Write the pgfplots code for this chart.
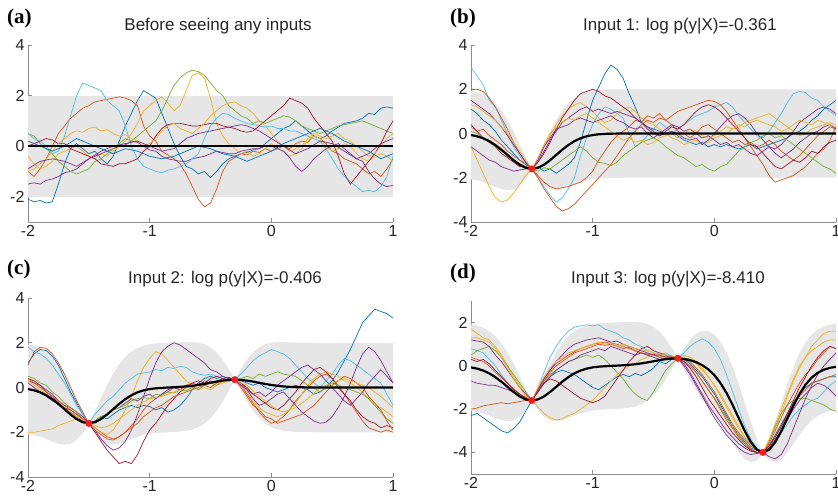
\documentclass[border=0pt]{standalone}
\usepackage{pgfplots}
\pgfplotsset{compat=1.18}
\usepackage{fontspec}
\setmainfont{Liberation Sans}
\newfontfamily\serifbf{Liberation Serif}
\definecolor{cb}{HTML}{0072BD}
\definecolor{co}{HTML}{D95319}
\definecolor{cy}{HTML}{EDB120}
\definecolor{cp}{HTML}{7E2F8E}
\definecolor{cg}{HTML}{77AC30}
\definecolor{cl}{HTML}{4DBEEE}
\definecolor{cr}{HTML}{A2142F}
\definecolor{axg}{RGB}{140,140,140}
\definecolor{txt}{RGB}{38,38,38}
\definecolor{band}{RGB}{230,230,230}
\definecolor{obs}{RGB}{245,30,30}
\pgfplotsset{
 gp/.style={scale only axis, width=365pt, anchor=south west, xmin=-2, xmax=1,
  xtick={-2,-1,0,1}, xticklabels={-2,-1,0,1},
  axis lines*=left, axis line style={axg, line width=0.6pt},
  tick style={axg, line width=0.6pt}, tick align=inside, major tick length=3.5pt,
  ticklabel style={font=\fontsize{16}{16}\selectfont, text=txt}},
 s/.style={line width=0.7pt, mark=none},
 mn/.style={black, line width=2.2pt, mark=none},
 ob/.style={only marks, mark=*, mark size=3.3pt, obs, mark options={draw=obs, fill=obs}},
 bd/.style={fill=band, draw=none, mark=none},
}
\begin{document}
\begin{tikzpicture}
\useasboundingbox (0,0) rectangle (838pt,503pt);
% ---------------- (a)
\begin{axis}[gp, at={(28pt,281pt)}, height=177pt, ymin=-3, ymax=4, ytick={-2,0,2,4}, yticklabels={-2,0,2,4}]
\addplot[bd] coordinates {(-2,-2)(1,-2)(1,2)(-2,2)} -- cycle;
\addplot[s, cb] coordinates {(-2,-2.1)(-1.95,-2.2)(-1.9,-2.15)(-1.85,-2.25)(-1.8,-2.2)(-1.75,-1.5)(-1.7,-0.7)(-1.65,-0.1)(-1.6,0.1)(-1.55,-0.1)(-1.5,-0.3)(-1.45,-0.2)(-1.4,-0.5)(-1.35,-0.7)(-1.3,-0.4)(-1.25,0.2)(-1.2,0.8)(-1.15,1.3)(-1.1,1.8)(-1.05,2.2)(-1,2.05)(-0.95,1.9)(-0.9,1.3)(-0.85,0.7)(-0.8,0.1)(-0.75,-0.4)(-0.7,-0.8)(-0.65,-0.9)(-0.6,-1.1)(-0.55,-1.0)(-0.5,-1.25)(-0.45,-1.0)(-0.4,-0.7)(-0.35,-0.5)(-0.3,-0.4)(-0.25,-0.3)(-0.2,-0.25)(-0.15,-0.15)(-0.1,-0.1)(-0.05,0.1)(0,0.3)(0.05,0.5)(0.1,0.7)(0.15,0.8)(0.2,1.0)(0.25,0.8)(0.3,0.6)(0.35,0.4)(0.4,0.3)(0.45,0.4)(0.5,0.6)(0.55,0.75)(0.6,0.9)(0.65,0.95)(0.7,1.0)(0.75,1.1)(0.8,1.3)(0.85,1.25)(0.9,1.5)(0.95,1.55)(1,1.5)};
\addplot[s, co] coordinates {(-2,-1.0)(-1.95,-1.2)(-1.9,-0.9)(-1.85,-0.5)(-1.8,0.0)(-1.75,0.5)(-1.7,0.8)(-1.65,1.1)(-1.6,1.3)(-1.55,1.5)(-1.5,1.6)(-1.45,1.75)(-1.4,1.8)(-1.35,1.85)(-1.3,1.9)(-1.25,1.95)(-1.2,1.9)(-1.15,1.8)(-1.1,1.6)(-1.05,0.8)(-1,0.4)(-0.95,0.2)(-0.9,-0.2)(-0.85,-0.35)(-0.8,-0.5)(-0.75,-0.7)(-0.7,-1.1)(-0.65,-1.6)(-0.6,-2.1)(-0.55,-2.4)(-0.5,-2.25)(-0.45,-1.7)(-0.4,-1.0)(-0.35,-0.6)(-0.3,-0.45)(-0.25,-0.3)(-0.2,-0.35)(-0.15,-0.2)(-0.1,-0.25)(-0.05,-0.1)(0,-0.2)(0.05,-0.1)(0.1,0.0)(0.15,-0.1)(0.2,0.1)(0.25,0.2)(0.3,0.15)(0.35,0.4)(0.4,0.3)(0.45,0.1)(0.5,-0.2)(0.55,-0.3)(0.6,-0.5)(0.65,-0.6)(0.7,-0.7)(0.75,-0.9)(0.8,-1.1)(0.85,-1.0)(0.9,-1.2)(0.95,-0.9)(1,-0.5)};
\addplot[s, cy] coordinates {(-2,-0.4)(-1.95,-0.7)(-1.9,-0.9)(-1.85,-0.8)(-1.8,-0.6)(-1.75,-0.3)(-1.7,-0.2)(-1.65,-0.1)(-1.6,0.0)(-1.55,-0.2)(-1.5,-0.4)(-1.45,-0.5)(-1.4,-0.3)(-1.35,-0.4)(-1.3,-0.2)(-1.25,0.0)(-1.2,0.2)(-1.15,0.5)(-1.1,0.9)(-1.05,1.4)(-1,1.6)(-0.95,1.8)(-0.9,1.95)(-0.85,1.7)(-0.8,1.4)(-0.75,1.6)(-0.7,2.2)(-0.65,2.8)(-0.6,2.9)(-0.55,2.7)(-0.5,1.9)(-0.45,0.9)(-0.4,0.4)(-0.35,0.1)(-0.3,-0.1)(-0.25,-0.3)(-0.2,-0.2)(-0.15,-0.4)(-0.1,-0.3)(-0.05,-0.1)(0,0.1)(0.05,-0.1)(0.1,-0.2)(0.15,-0.4)(0.2,-0.3)(0.25,-0.1)(0.3,0.2)(0.35,0.4)(0.4,0.3)(0.45,0.0)(0.5,-0.2)(0.55,-0.1)(0.6,0.1)(0.65,0.0)(0.7,-0.3)(0.75,-0.5)(0.8,-0.6)(0.85,-0.4)(0.9,-0.3)(0.95,-0.4)(1,-0.6)};
\addplot[s, cp] coordinates {(-2,-1.5)(-1.95,-1.45)(-1.9,-1.5)(-1.85,-1.35)(-1.8,-1.3)(-1.75,-1.2)(-1.7,-1.05)(-1.65,-1.0)(-1.6,-0.9)(-1.55,-0.7)(-1.5,-0.5)(-1.45,-0.4)(-1.4,-0.3)(-1.35,-0.2)(-1.3,-0.1)(-1.25,0.0)(-1.2,0.05)(-1.15,0.2)(-1.1,0.15)(-1.05,0.0)(-1,-0.15)(-0.95,-0.2)(-0.9,-0.4)(-0.85,-0.5)(-0.8,-0.55)(-0.75,-0.6)(-0.7,-0.6)(-0.65,-0.5)(-0.6,-0.45)(-0.55,-0.4)(-0.5,-0.3)(-0.45,-0.2)(-0.4,-0.25)(-0.35,-0.3)(-0.3,-0.3)(-0.25,-0.2)(-0.2,-0.15)(-0.15,-0.1)(-0.1,-0.1)(-0.05,0.0)(0,0.0)(0.05,-0.1)(0.1,-0.2)(0.15,-0.45)(0.2,-0.8)(0.25,-1.0)(0.3,-0.8)(0.35,-0.5)(0.4,-0.3)(0.45,-0.1)(0.5,0.0)(0.55,0.1)(0.6,-0.1)(0.65,-0.3)(0.7,-0.5)(0.75,-0.6)(0.8,-1.0)(0.85,-1.3)(0.9,-1.5)(0.95,-1.6)(1,-1.55)};
\addplot[s, cg] coordinates {(-2,0.5)(-1.95,0.4)(-1.9,0.1)(-1.85,-0.1)(-1.8,-0.3)(-1.75,-0.6)(-1.7,-0.8)(-1.65,-1.0)(-1.6,-1.1)(-1.55,-1.0)(-1.5,-0.9)(-1.45,-0.6)(-1.4,-0.5)(-1.35,-0.3)(-1.3,-0.1)(-1.25,0.1)(-1.2,0.3)(-1.15,0.2)(-1.1,0.4)(-1.05,0.6)(-1,0.8)(-0.95,1.0)(-0.9,1.4)(-0.85,1.9)(-0.8,2.4)(-0.75,2.7)(-0.7,2.9)(-0.65,3.0)(-0.6,2.95)(-0.55,2.8)(-0.5,2.5)(-0.45,2.2)(-0.4,2.0)(-0.35,1.6)(-0.3,1.4)(-0.25,1.2)(-0.2,1.1)(-0.15,0.9)(-0.1,1.0)(-0.05,0.9)(0,1.0)(0.05,1.1)(0.1,1.2)(0.15,1.15)(0.2,1.0)(0.25,0.8)(0.3,0.7)(0.35,0.6)(0.4,0.5)(0.45,0.6)(0.5,0.7)(0.55,0.8)(0.6,0.85)(0.65,0.9)(0.7,0.95)(0.75,1.0)(0.8,0.9)(0.85,0.8)(0.9,0.7)(0.95,0.6)(1,0.5)};
\addplot[s, cl] coordinates {(-2,0.5)(-1.95,0.3)(-1.9,0.2)(-1.85,0.0)(-1.8,-0.3)(-1.75,-0.2)(-1.7,0.4)(-1.65,1.2)(-1.6,2.0)(-1.55,2.5)(-1.5,2.4)(-1.45,2.3)(-1.4,2.2)(-1.35,1.8)(-1.3,1.6)(-1.25,1.4)(-1.2,0.8)(-1.15,0.0)(-1.1,-0.5)(-1.05,-0.8)(-1,-0.9)(-0.95,-1.0)(-0.9,-1.05)(-0.85,-0.95)(-0.8,-0.9)(-0.75,-0.8)(-0.7,-0.7)(-0.65,-0.5)(-0.6,-0.3)(-0.55,0.3)(-0.5,0.8)(-0.45,1.1)(-0.4,1.3)(-0.35,1.25)(-0.3,1.1)(-0.25,1.0)(-0.2,0.9)(-0.15,0.85)(-0.1,0.8)(-0.05,0.75)(0,0.8)(0.05,0.7)(0.1,0.7)(0.15,0.6)(0.2,0.6)(0.25,0.5)(0.3,0.4)(0.35,0.3)(0.4,0.2)(0.45,-0.1)(0.5,-0.5)(0.55,-0.9)(0.6,-1.2)(0.65,-1.4)(0.7,-1.6)(0.75,-1.8)(0.8,-1.75)(0.85,-1.8)(0.9,-1.6)(0.95,-1.2)(1,-0.4)};
\addplot[s, cr] coordinates {(-2,0.0)(-1.95,0.1)(-1.9,0.2)(-1.85,0.3)(-1.8,0.25)(-1.75,0.1)(-1.7,0.1)(-1.65,-0.1)(-1.6,-0.2)(-1.55,-0.3)(-1.5,-0.4)(-1.45,-0.5)(-1.4,-0.7)(-1.35,-0.75)(-1.3,-0.8)(-1.25,-0.7)(-1.2,-0.7)(-1.15,-0.6)(-1.1,-0.5)(-1.05,-0.2)(-1,0.0)(-0.95,0.4)(-0.9,0.7)(-0.85,0.85)(-0.8,0.9)(-0.75,0.9)(-0.7,0.85)(-0.65,0.8)(-0.6,0.8)(-0.55,0.85)(-0.5,0.9)(-0.45,0.9)(-0.4,0.8)(-0.35,0.75)(-0.3,0.7)(-0.25,0.6)(-0.2,0.55)(-0.15,0.6)(-0.1,0.8)(-0.05,1.0)(0,1.2)(0.05,1.4)(0.1,1.6)(0.15,1.9)(0.2,1.8)(0.25,1.7)(0.3,1.5)(0.35,1.1)(0.4,0.8)(0.45,0.5)(0.5,0.2)(0.55,-0.4)(0.6,-1.1)(0.65,-1.5)(0.7,-1.2)(0.75,-0.9)(0.8,-0.6)(0.85,-0.3)(0.9,0.1)(0.95,0.6)(1,1.0)};
\addplot[s, cy] coordinates {(-2,-1.0)(-1.95,-0.9)(-1.9,-0.7)(-1.85,-0.5)(-1.8,-0.2)(-1.75,0.1)(-1.7,0.3)(-1.65,0.5)(-1.6,0.6)(-1.55,0.55)(-1.5,0.7)(-1.45,0.75)(-1.4,0.6)(-1.35,0.65)(-1.3,0.5)(-1.25,0.4)(-1.2,0.45)(-1.15,0.3)(-1.1,0.2)(-1.05,0.0)(-1,0.1)(-0.95,0.3)(-0.9,0.6)(-0.85,0.8)(-0.8,0.9)(-0.75,0.7)(-0.7,0.6)(-0.65,0.5)(-0.6,0.7)(-0.55,0.9)(-0.5,1.2)(-0.45,1.4)(-0.4,1.6)(-0.35,1.7)(-0.3,1.75)(-0.25,1.6)(-0.2,1.5)(-0.15,1.3)(-0.1,1.0)(-0.05,0.8)(0,0.5)(0.05,0.2)(0.1,0.0)(0.15,-0.2)(0.2,-0.1)(0.25,0.0)(0.3,0.3)(0.35,0.5)(0.4,0.4)(0.45,0.3)(0.5,0.4)(0.55,0.5)(0.6,0.3)(0.65,0.2)(0.7,0.0)(0.75,-0.2)(0.8,-0.4)(0.85,-0.3)(0.9,0.0)(0.95,0.3)(1,0.5)};
\addplot[s, cp] coordinates {(-2,-0.9)(-1.95,-0.75)(-1.9,-0.6)(-1.85,-0.55)(-1.8,-0.5)(-1.75,-0.55)(-1.7,-0.6)(-1.65,-0.7)(-1.6,-0.8)(-1.55,-0.65)(-1.5,-0.5)(-1.45,-0.35)(-1.4,-0.2)(-1.35,-0.1)(-1.3,0.0)(-1.25,0.05)(-1.2,0.1)(-1.15,0.15)(-1.1,0.2)(-1.05,0.1)(-1,0.0)(-0.95,-0.1)(-0.9,-0.2)(-0.85,-0.15)(-0.8,-0.1)(-0.75,0.1)(-0.7,0.3)(-0.65,0.4)(-0.6,0.5)(-0.55,0.55)(-0.5,0.6)(-0.45,0.65)(-0.4,0.7)(-0.35,0.75)(-0.3,0.8)(-0.25,0.85)(-0.2,0.8)(-0.15,0.7)(-0.1,0.6)(-0.05,0.45)(0,0.3)(0.05,0.15)(0.1,0.0)(0.15,-0.15)(0.2,-0.3)(0.25,-0.2)(0.3,-0.1)(0.35,0.05)(0.4,0.2)(0.45,0.15)(0.5,0.1)(0.55,-0.05)(0.6,-0.2)(0.65,-0.35)(0.7,-0.5)(0.75,-0.4)(0.8,-0.3)(0.85,-0.1)(0.9,0.1)(0.95,0.2)(1,0.3)};
\addplot[s, cb] coordinates {(-2,0.2)(-1.95,0.1)(-1.9,0.0)(-1.85,-0.1)(-1.8,-0.2)(-1.75,-0.1)(-1.7,0.0)(-1.65,0.15)(-1.6,0.3)(-1.55,0.2)(-1.5,0.1)(-1.45,0.0)(-1.4,-0.1)(-1.35,-0.2)(-1.3,-0.3)(-1.25,-0.2)(-1.2,-0.1)(-1.15,-0.15)(-1.1,-0.2)(-1.05,-0.3)(-1,-0.4)(-0.95,-0.45)(-0.9,-0.5)(-0.85,-0.45)(-0.8,-0.4)(-0.75,-0.3)(-0.7,-0.2)(-0.65,-0.1)(-0.6,0.0)(-0.55,-0.05)(-0.5,-0.1)(-0.45,-0.2)(-0.4,-0.3)(-0.35,-0.35)(-0.3,-0.4)(-0.25,-0.5)(-0.2,-0.6)(-0.15,-0.5)(-0.1,-0.4)(-0.05,-0.3)(0,-0.2)(0.05,-0.05)(0.1,0.1)(0.15,0.2)(0.2,0.3)(0.25,0.4)(0.3,0.5)(0.35,0.6)(0.4,0.7)(0.45,0.6)(0.5,0.5)(0.55,0.35)(0.6,0.2)(0.65,0.1)(0.7,0.0)(0.75,-0.1)(0.8,-0.2)(0.85,-0.35)(0.9,-0.5)(0.95,-0.4)(1,-0.3)};
\addplot[mn] coordinates {(-2,0)(1,0)};
\end{axis}
% ---------------- (b)
\begin{axis}[gp, at={(471pt,281pt)}, height=177pt, ymin=-4, ymax=4, ytick={-4,-2,0,2,4}, yticklabels={-4,-2,0,2,4}]
\addplot[bd] coordinates {(-2,-2.068)(-1.95,-2.121)(-1.9,-2.199)(-1.85,-2.299)(-1.8,-2.412)(-1.75,-2.51)(-1.7,-2.56)(-1.65,-2.52)(-1.6,-2.353)(-1.55,-2.043)(-1.525,-1.836)(-1.5,-1.64)(-1.475,-1.836)(-1.45,-2.043)(-1.4,-2.353)(-1.35,-2.52)(-1.3,-2.56)(-1.25,-2.51)(-1.2,-2.412)(-1.15,-2.299)(-1.1,-2.199)(-1.05,-2.121)(-1,-2.068)(-0.95,-2.036)(-0.9,-2.018)(-0.85,-2.008)(-0.8,-2.004)(-0.75,-2)(1,-2)(1,2)(-0.75,2)(-0.8,1.996)(-0.85,1.992)(-0.9,1.982)(-0.95,1.964)(-1,1.928)(-1.05,1.867)(-1.1,1.765)(-1.15,1.607)(-1.2,1.372)(-1.25,1.046)(-1.3,0.62)(-1.35,0.104)(-1.4,-0.471)(-1.45,-1.059)(-1.475,-1.338)(-1.5,-1.56)(-1.525,-1.338)(-1.55,-1.059)(-1.6,-0.471)(-1.65,0.104)(-1.7,0.62)(-1.75,1.046)(-1.8,1.372)(-1.85,1.607)(-1.9,1.765)(-1.95,1.867)(-2,1.928)} -- cycle;
\addplot[s, cl] coordinates {(-2,3.0)(-1.95,2.6)(-1.9,2.2)(-1.85,1.5)(-1.8,1.2)(-1.75,0.6)(-1.7,0.0)(-1.65,-0.6)(-1.6,-1.0)(-1.55,-1.4)(-1.5,-1.6)(-1.45,-2.0)(-1.4,-2.4)(-1.35,-2.8)(-1.3,-3.1)(-1.25,-2.9)(-1.2,-2.5)(-1.15,-2.0)(-1.1,-1.0)(-1.05,-0.2)(-1,0.4)(-0.95,0.9)(-0.9,1.2)(-0.85,1.1)(-0.8,0.9)(-0.75,0.7)(-0.7,0.0)(-0.65,-0.6)(-0.6,-0.4)(-0.55,-0.1)(-0.5,0.2)(-0.45,0.5)(-0.4,0.3)(-0.35,0.0)(-0.3,0.2)(-0.25,0.4)(-0.2,0.6)(-0.15,0.8)(-0.1,0.9)(-0.05,1.0)(0,1.2)(0.05,1.3)(0.1,1.4)(0.15,1.2)(0.2,0.8)(0.25,0.5)(0.3,0.2)(0.35,-0.1)(0.4,-0.2)(0.45,0.1)(0.5,0.5)(0.55,0.9)(0.6,1.4)(0.65,1.8)(0.7,1.9)(0.75,1.85)(0.8,1.6)(0.85,1.5)(0.9,1.2)(0.95,1.0)(1,0.8)};
\addplot[s, cb] coordinates {(-2,1.1)(-1.95,0.9)(-1.9,0.6)(-1.85,0.4)(-1.8,0.1)(-1.75,-0.3)(-1.7,-0.6)(-1.65,-0.9)(-1.6,-1.2)(-1.55,-1.4)(-1.5,-1.6)(-1.45,-1.5)(-1.4,-1.7)(-1.35,-1.6)(-1.3,-1.8)(-1.25,-1.6)(-1.2,-1.4)(-1.15,-1.1)(-1.1,-0.4)(-1.05,0.6)(-1,1.5)(-0.95,2.1)(-0.9,2.7)(-0.85,3.1)(-0.8,2.9)(-0.75,2.5)(-0.7,1.8)(-0.65,1.2)(-0.6,0.5)(-0.55,0.3)(-0.5,0.2)(-0.45,0.1)(-0.4,0.0)(-0.35,0.1)(-0.3,-0.1)(-0.25,-0.3)(-0.2,-0.4)(-0.15,-0.5)(-0.1,-0.4)(-0.05,-0.6)(0,-0.5)(0.05,-0.6)(0.1,-0.5)(0.15,-0.6)(0.2,-0.7)(0.25,-0.6)(0.3,-0.5)(0.35,-0.7)(0.4,-0.6)(0.45,-0.5)(0.5,-0.4)(0.55,-0.3)(0.6,-0.2)(0.65,0.0)(0.7,0.1)(0.75,0.3)(0.8,0.6)(0.85,0.8)(0.9,1.1)(0.95,1.3)(1,1.5)};
\addplot[s, cy] coordinates {(-2,-0.6)(-1.95,-1.2)(-1.9,-1.8)(-1.85,-2.4)(-1.8,-2.9)(-1.75,-3.1)(-1.7,-3.0)(-1.65,-2.7)(-1.6,-2.3)(-1.55,-1.9)(-1.5,-1.6)(-1.45,-1.2)(-1.4,-0.6)(-1.35,-0.1)(-1.3,0.4)(-1.25,0.8)(-1.2,1.1)(-1.15,1.3)(-1.1,1.4)(-1.05,1.2)(-1,1.0)(-0.95,0.7)(-0.9,0.5)(-0.85,0.6)(-0.8,0.9)(-0.75,1.1)(-0.7,1.2)(-0.65,1.0)(-0.6,0.7)(-0.55,0.5)(-0.5,0.4)(-0.45,0.2)(-0.4,0.0)(-0.35,-0.2)(-0.3,-0.3)(-0.25,-0.5)(-0.2,-0.4)(-0.15,-0.3)(-0.1,-0.5)(-0.05,-0.4)(0,-0.2)(0.05,-0.1)(0.1,0.0)(0.15,0.2)(0.2,0.3)(0.25,0.5)(0.3,0.6)(0.35,0.7)(0.4,0.8)(0.45,0.9)(0.5,0.7)(0.55,0.5)(0.6,0.3)(0.65,0.1)(0.7,-0.1)(0.75,0.0)(0.8,0.2)(0.85,0.3)(0.9,0.4)(0.95,0.5)(1,0.4)};
\addplot[s, co] coordinates {(-2,2.0)(-1.95,2.0)(-1.9,1.9)(-1.85,1.6)(-1.8,1.2)(-1.75,0.7)(-1.7,0.2)(-1.65,-0.4)(-1.6,-0.9)(-1.55,-1.3)(-1.5,-1.6)(-1.45,-2.0)(-1.4,-2.5)(-1.35,-2.9)(-1.3,-3.3)(-1.25,-3.5)(-1.2,-3.4)(-1.15,-3.2)(-1.1,-2.9)(-1.05,-2.6)(-1,-2.3)(-0.95,-2.0)(-0.9,-1.7)(-0.85,-1.4)(-0.8,-1.0)(-0.75,-0.6)(-0.7,-0.2)(-0.65,0.1)(-0.6,0.4)(-0.55,0.6)(-0.5,0.5)(-0.45,0.7)(-0.4,0.6)(-0.35,0.8)(-0.3,1.0)(-0.25,1.1)(-0.2,1.2)(-0.15,1.3)(-0.1,1.4)(-0.05,1.5)(0,1.45)(0.05,1.3)(0.1,1.0)(0.15,0.6)(0.2,0.2)(0.25,-0.2)(0.3,-0.6)(0.35,-1.0)(0.4,-1.4)(0.45,-1.9)(0.5,-2.2)(0.55,-2.1)(0.6,-2.0)(0.65,-1.9)(0.7,-1.7)(0.75,-1.5)(0.8,-1.2)(0.85,-0.9)(0.9,-0.7)(0.95,-0.3)(1,0.3)};
\addplot[s, co] coordinates {(-2,0.3)(-1.95,0.1)(-1.9,0.2)(-1.85,-0.1)(-1.8,-0.3)(-1.75,-0.5)(-1.7,-0.8)(-1.65,-1.0)(-1.6,-1.2)(-1.55,-1.4)(-1.5,-1.6)(-1.45,-1.9)(-1.4,-2.2)(-1.35,-2.4)(-1.3,-2.5)(-1.25,-2.45)(-1.2,-2.4)(-1.15,-2.3)(-1.1,-2.2)(-1.05,-2.0)(-1,-1.7)(-0.95,-1.2)(-0.9,-0.8)(-0.85,-0.4)(-0.8,-0.1)(-0.75,0.1)(-0.7,0.3)(-0.65,0.6)(-0.6,0.5)(-0.55,0.8)(-0.5,0.7)(-0.45,0.9)(-0.4,0.6)(-0.35,0.4)(-0.3,0.1)(-0.25,0.0)(-0.2,-0.2)(-0.15,0.0)(-0.1,0.3)(-0.05,0.4)(0,0.2)(0.05,0.0)(0.1,-0.2)(0.15,-0.4)(0.2,-0.3)(0.25,-0.5)(0.3,-0.4)(0.35,-0.6)(0.4,-0.5)(0.45,-0.3)(0.5,-0.5)(0.55,-0.8)(0.6,-1.0)(0.65,-1.2)(0.7,-1.0)(0.75,-0.7)(0.8,-0.4)(0.85,-0.1)(0.9,0.1)(0.95,0.3)(1,0.2)};
\addplot[s, cr] coordinates {(-2,0.4)(-1.95,0.1)(-1.9,-0.2)(-1.85,-0.4)(-1.8,-0.6)(-1.75,-0.9)(-1.7,-1.1)(-1.65,-1.3)(-1.6,-1.5)(-1.55,-1.5)(-1.5,-1.6)(-1.45,-1.3)(-1.4,-0.9)(-1.35,-0.4)(-1.3,0.2)(-1.25,0.7)(-1.2,1.1)(-1.15,1.5)(-1.1,1.8)(-1.05,1.9)(-1,2.0)(-0.95,1.9)(-0.9,1.7)(-0.85,1.6)(-0.8,1.4)(-0.75,1.2)(-0.7,1.0)(-0.65,0.7)(-0.6,0.5)(-0.55,0.2)(-0.5,0.0)(-0.45,-0.1)(-0.4,0.1)(-0.35,0.3)(-0.3,0.2)(-0.25,0.4)(-0.2,0.7)(-0.15,1.0)(-0.1,1.2)(-0.05,1.3)(0,1.2)(0.05,1.0)(0.1,0.7)(0.15,0.4)(0.2,0.1)(0.25,-0.2)(0.3,-0.5)(0.35,-0.6)(0.4,-0.9)(0.45,-1.2)(0.5,-1.5)(0.55,-1.6)(0.6,-1.4)(0.65,-1.2)(0.7,-1.3)(0.75,-1.1)(0.8,-0.8)(0.85,-0.9)(0.9,-0.6)(0.95,-0.4)(1,-0.3)};
\addplot[s, cp] coordinates {(-2,1.5)(-1.95,1.3)(-1.9,1.1)(-1.85,0.9)(-1.8,0.6)(-1.75,0.3)(-1.7,-0.1)(-1.65,-0.5)(-1.6,-0.9)(-1.55,-1.3)(-1.5,-1.6)(-1.45,-1.3)(-1.4,-0.8)(-1.35,-0.3)(-1.3,0.1)(-1.25,0.5)(-1.2,0.7)(-1.15,0.9)(-1.1,1.1)(-1.05,1.2)(-1,1.0)(-0.95,1.1)(-0.9,1.0)(-0.85,0.9)(-0.8,1.0)(-0.75,0.9)(-0.7,0.8)(-0.65,0.7)(-0.6,0.5)(-0.55,0.3)(-0.5,0.1)(-0.45,-0.1)(-0.4,0.0)(-0.35,0.1)(-0.3,0.0)(-0.25,-0.2)(-0.2,-0.3)(-0.15,-0.2)(-0.1,-0.5)(-0.05,-0.3)(0,0.0)(0.05,0.3)(0.1,0.6)(0.15,0.8)(0.2,0.9)(0.25,0.7)(0.3,0.4)(0.35,0.0)(0.4,-0.3)(0.45,-0.6)(0.5,-0.7)(0.55,-0.5)(0.6,-0.2)(0.65,0.1)(0.7,0.5)(0.75,0.7)(0.8,0.9)(0.85,1.1)(0.9,1.2)(0.95,1.1)(1,0.9)};
\addplot[s, cp] coordinates {(-2,-0.6)(-1.95,-0.8)(-1.9,-1.0)(-1.85,-1.2)(-1.8,-1.3)(-1.75,-1.5)(-1.7,-1.6)(-1.65,-1.7)(-1.6,-1.65)(-1.55,-1.6)(-1.5,-1.6)(-1.45,-1.2)(-1.4,-0.6)(-1.35,-0.2)(-1.3,0.2)(-1.25,0.3)(-1.2,0.4)(-1.15,0.6)(-1.1,0.7)(-1.05,0.6)(-1,0.5)(-0.95,0.6)(-0.9,0.7)(-0.85,0.8)(-0.8,0.6)(-0.75,0.5)(-0.7,0.3)(-0.65,0.2)(-0.6,0.3)(-0.55,0.0)(-0.5,-0.2)(-0.45,0.0)(-0.4,0.2)(-0.35,0.4)(-0.3,0.3)(-0.25,0.1)(-0.2,0.2)(-0.15,0.0)(-0.1,-0.2)(-0.05,-0.1)(0,-0.3)(0.05,-0.5)(0.1,-0.4)(0.15,-0.6)(0.2,-0.5)(0.25,-0.7)(0.3,-0.9)(0.35,-1.0)(0.4,-0.8)(0.45,-0.6)(0.5,-0.9)(0.55,-1.1)(0.6,-0.9)(0.65,-0.7)(0.7,-0.4)(0.75,-0.2)(0.8,0.0)(0.85,0.1)(0.9,0.3)(0.95,0.4)(1,0.2)};
\addplot[s, cg] coordinates {(-2,0.1)(-1.95,0.0)(-1.9,-0.2)(-1.85,-0.4)(-1.8,-0.6)(-1.75,-0.8)(-1.7,-1.0)(-1.65,-1.2)(-1.6,-1.35)(-1.55,-1.5)(-1.5,-1.6)(-1.45,-1.7)(-1.4,-1.55)(-1.35,-1.6)(-1.3,-1.4)(-1.25,-1.2)(-1.2,-1.0)(-1.15,-0.8)(-1.1,-0.6)(-1.05,-0.8)(-1,-1.1)(-0.95,-1.3)(-0.9,-1.35)(-0.85,-1.45)(-0.8,-1.3)(-0.75,-1.0)(-0.7,-0.8)(-0.65,-0.6)(-0.6,-0.4)(-0.55,-0.3)(-0.5,-0.2)(-0.45,-0.35)(-0.4,-0.6)(-0.35,-0.8)(-0.3,-1.0)(-0.25,-1.1)(-0.2,-1.3)(-0.15,-1.5)(-0.1,-1.4)(-0.05,-1.6)(0,-1.7)(0.05,-1.5)(0.1,-1.4)(0.15,-1.1)(0.2,-0.8)(0.25,-0.6)(0.3,-0.4)(0.35,-0.3)(0.4,-0.1)(0.45,0.0)(0.5,-0.2)(0.55,-0.1)(0.6,-0.3)(0.65,-0.5)(0.7,-0.7)(0.75,-0.9)(0.8,-1.1)(0.85,-1.3)(0.9,-1.5)(0.95,-1.6)(1,-1.8)};
\addplot[s, cy] coordinates {(-2,1.3)(-1.95,1.2)(-1.9,1.0)(-1.85,0.8)(-1.8,0.6)(-1.75,0.3)(-1.7,0.0)(-1.65,-0.4)(-1.6,-0.8)(-1.55,-1.2)(-1.5,-1.6)(-1.45,-1.1)(-1.4,-0.5)(-1.35,0.0)(-1.3,0.3)(-1.25,0.5)(-1.2,0.7)(-1.15,0.6)(-1.1,0.8)(-1.05,0.9)(-1,0.7)(-0.95,0.5)(-0.9,0.3)(-0.85,0.1)(-0.8,-0.1)(-0.75,-0.3)(-0.7,-0.2)(-0.65,-0.4)(-0.6,-0.3)(-0.55,-0.5)(-0.5,-0.4)(-0.45,-0.2)(-0.4,-0.1)(-0.35,0.0)(-0.3,-0.2)(-0.25,0.0)(-0.2,0.2)(-0.15,0.1)(-0.1,-0.1)(-0.05,-0.2)(0,-0.1)(0.05,0.1)(0.1,0.3)(0.15,0.2)(0.2,0.4)(0.25,0.3)(0.3,0.5)(0.35,0.6)(0.4,0.5)(0.45,0.4)(0.5,0.3)(0.55,0.1)(0.6,0.2)(0.65,0.4)(0.7,0.6)(0.75,0.5)(0.8,0.4)(0.85,0.6)(0.9,0.5)(0.95,0.4)(1,0.3)};
\addplot[mn] coordinates {(-2,-0.07)(-1.95,-0.127)(-1.9,-0.217)(-1.85,-0.346)(-1.8,-0.52)(-1.75,-0.732)(-1.7,-0.97)(-1.65,-1.208)(-1.6,-1.412)(-1.55,-1.551)(-1.5,-1.6)(-1.45,-1.551)(-1.4,-1.412)(-1.35,-1.208)(-1.3,-0.97)(-1.25,-0.732)(-1.2,-0.52)(-1.15,-0.346)(-1.1,-0.217)(-1.05,-0.127)(-1,-0.07)(-0.95,-0.036)(-0.9,-0.018)(-0.85,-0.008)(-0.8,-0.004)(-0.7,0)(1,0)};
\addplot[ob] coordinates {(-1.5,-1.6)};
\end{axis}
% ---------------- (c)
\begin{axis}[gp, at={(28pt,26pt)}, height=179pt, ymin=-4, ymax=4, ytick={-4,-2,0,2,4}, yticklabels={-4,-2,0,2,4}]
\addplot[bd] coordinates {(-2,-2.068)(-1.95,-2.121)(-1.9,-2.199)(-1.85,-2.299)(-1.8,-2.412)(-1.75,-2.51)(-1.7,-2.56)(-1.65,-2.52)(-1.6,-2.353)(-1.55,-2.043)(-1.525,-1.836)(-1.5,-1.64)(-1.475,-1.836)(-1.45,-2.043)(-1.4,-2.353)(-1.35,-2.52)(-1.3,-2.56)(-1.25,-2.51)(-1.2,-2.412)(-1.15,-2.299)(-1.1,-2.199)(-1.05,-2.121)(-1,-2.068)(-0.95,-2.036)(-0.9,-2.018)(-0.85,-2.0)(-0.8,-1.987)(-0.75,-1.966)(-0.7,-1.935)(-0.65,-1.877)(-0.6,-1.778)(-0.55,-1.618)(-0.5,-1.378)(-0.45,-1.048)(-0.4,-0.632)(-0.35,-0.153)(-0.325,0.098)(-0.3,0.31)(-0.275,0.098)(-0.25,-0.153)(-0.2,-0.632)(-0.15,-1.048)(-0.1,-1.378)(-0.05,-1.618)(0,-1.778)(0.05,-1.877)(0.1,-1.935)(0.15,-1.966)(0.2,-1.984)(0.25,-1.992)(0.3,-1.996)(0.35,-2)(1,-2)(1,2)(0.35,2)(0.3,2.004)(0.25,2.008)(0.2,2.014)(0.15,2.022)(0.1,2.029)(0.05,2.029)(0,2.006)(-0.05,1.938)(-0.1,1.802)(-0.15,1.576)(-0.2,1.25)(-0.25,0.831)(-0.275,0.596)(-0.3,0.39)(-0.325,0.596)(-0.35,0.831)(-0.4,1.25)(-0.45,1.576)(-0.5,1.802)(-0.55,1.938)(-0.6,2.006)(-0.65,2.029)(-0.7,2.029)(-0.75,2.022)(-0.8,2.009)(-0.85,2.0)(-0.9,1.982)(-0.95,1.964)(-1,1.928)(-1.05,1.867)(-1.1,1.765)(-1.15,1.607)(-1.2,1.372)(-1.25,1.046)(-1.3,0.62)(-1.35,0.104)(-1.4,-0.471)(-1.45,-1.059)(-1.475,-1.338)(-1.5,-1.56)(-1.525,-1.338)(-1.55,-1.059)(-1.6,-0.471)(-1.65,0.104)(-1.7,0.62)(-1.75,1.046)(-1.8,1.372)(-1.85,1.607)(-1.9,1.765)(-1.95,1.867)(-2,1.928)} -- cycle;
\addplot[s, cb] coordinates {(-2,1.1)(-1.95,1.5)(-1.9,1.7)(-1.85,1.65)(-1.8,1.4)(-1.75,1.0)(-1.7,0.4)(-1.65,-0.2)(-1.6,-0.7)(-1.55,-1.2)(-1.5,-1.6)(-1.45,-1.5)(-1.4,-1.3)(-1.35,-1.4)(-1.3,-1.2)(-1.25,-1.0)(-1.2,-0.9)(-1.15,-0.8)(-1.1,-0.9)(-1.05,-0.8)(-1,-0.85)(-0.95,-1.0)(-0.9,-0.9)(-0.85,-1.1)(-0.8,-1.0)(-0.75,-0.8)(-0.7,-0.5)(-0.65,-0.1)(-0.6,0.2)(-0.55,0.4)(-0.5,0.5)(-0.45,0.4)(-0.4,0.5)(-0.35,0.4)(-0.3,0.35)(-0.25,0.3)(-0.2,0.2)(-0.15,0.1)(-0.1,0.2)(-0.05,0.0)(0,-0.1)(0.05,-0.2)(0.1,-0.1)(0.15,0.0)(0.2,0.1)(0.25,0.0)(0.3,-0.1)(0.35,-0.3)(0.4,-0.2)(0.45,0.0)(0.5,0.3)(0.55,0.7)(0.6,1.2)(0.65,1.7)(0.7,2.3)(0.75,2.9)(0.8,3.2)(0.85,3.5)(0.9,3.4)(0.95,3.3)(1,3.1)};
\addplot[s, cl] coordinates {(-2,1.8)(-1.95,1.6)(-1.9,1.5)(-1.85,1.3)(-1.8,1.0)(-1.75,0.6)(-1.7,0.2)(-1.65,-0.3)(-1.6,-0.8)(-1.55,-1.2)(-1.5,-1.6)(-1.45,-1.2)(-1.4,-0.9)(-1.35,-0.6)(-1.3,-0.4)(-1.25,-0.1)(-1.2,0.2)(-1.15,0.4)(-1.1,0.6)(-1.05,0.65)(-1,0.7)(-0.95,0.8)(-0.9,0.75)(-0.85,0.9)(-0.8,0.85)(-0.75,0.95)(-0.7,0.9)(-0.65,0.7)(-0.6,0.6)(-0.55,0.55)(-0.5,0.6)(-0.45,0.5)(-0.4,0.4)(-0.35,0.45)(-0.3,0.35)(-0.25,0.6)(-0.2,0.9)(-0.15,1.2)(-0.1,1.4)(-0.05,1.55)(0,1.7)(0.05,1.6)(0.1,1.5)(0.15,1.3)(0.2,1.0)(0.25,0.7)(0.3,0.4)(0.35,0.2)(0.4,0.0)(0.45,0.3)(0.5,0.6)(0.55,1.0)(0.6,1.3)(0.65,1.2)(0.7,1.0)(0.75,0.8)(0.8,0.6)(0.85,0.4)(0.9,0.2)(0.95,-0.3)(1,-0.8)};
\addplot[s, co] coordinates {(-2,1.0)(-1.95,1.6)(-1.9,1.8)(-1.85,1.75)(-1.8,1.5)(-1.75,1.1)(-1.7,0.6)(-1.65,0.0)(-1.6,-0.6)(-1.55,-1.1)(-1.5,-1.6)(-1.45,-1.8)(-1.4,-2.0)(-1.35,-2.2)(-1.3,-2.3)(-1.25,-2.2)(-1.2,-2.0)(-1.15,-1.7)(-1.1,-1.4)(-1.05,-1.0)(-1,-0.7)(-0.95,-0.5)(-0.9,-0.3)(-0.85,-0.2)(-0.8,0.0)(-0.75,-0.1)(-0.7,0.1)(-0.65,0.2)(-0.6,0.1)(-0.55,0.3)(-0.5,0.2)(-0.45,0.3)(-0.4,0.4)(-0.35,0.3)(-0.3,0.35)(-0.25,0.1)(-0.2,-0.3)(-0.15,-0.7)(-0.1,-1.1)(-0.05,-1.4)(0,-1.6)(0.05,-1.5)(0.1,-1.3)(0.15,-1.0)(0.2,-0.6)(0.25,-0.3)(0.3,0.0)(0.35,0.3)(0.4,0.5)(0.45,0.6)(0.5,0.4)(0.55,0.1)(0.6,-0.3)(0.65,-0.7)(0.7,-1.1)(0.75,-1.5)(0.8,-1.8)(0.85,-1.9)(0.9,-2.0)(0.95,-1.9)(1,-2.0)};
\addplot[s, cy] coordinates {(-2,-2.0)(-1.95,-2.0)(-1.9,-1.95)(-1.85,-1.9)(-1.8,-1.85)(-1.75,-1.7)(-1.7,-1.6)(-1.65,-1.5)(-1.6,-1.4)(-1.55,-1.5)(-1.5,-1.6)(-1.45,-1.8)(-1.4,-2.0)(-1.35,-2.1)(-1.3,-1.9)(-1.25,-1.5)(-1.2,-1.0)(-1.15,-0.4)(-1.1,0.3)(-1.05,0.9)(-1,1.3)(-0.95,1.6)(-0.9,1.5)(-0.85,1.2)(-0.8,0.9)(-0.75,0.6)(-0.7,0.3)(-0.65,0.1)(-0.6,-0.1)(-0.55,0.0)(-0.5,-0.1)(-0.45,0.1)(-0.4,0.2)(-0.35,0.3)(-0.3,0.35)(-0.25,0.1)(-0.2,-0.2)(-0.15,-0.6)(-0.1,-0.9)(-0.05,-1.1)(0,-1.2)(0.05,-1.3)(0.1,-1.2)(0.15,-1.0)(0.2,-0.7)(0.25,-0.3)(0.3,0.1)(0.35,0.4)(0.4,0.6)(0.45,0.7)(0.5,0.6)(0.55,0.5)(0.6,0.3)(0.65,0.2)(0.7,0.0)(0.75,-0.2)(0.8,-0.5)(0.85,-0.8)(0.9,-0.9)(0.95,-1.1)(1,-1.3)};
\addplot[s, cp] coordinates {(-2,0.3)(-1.95,0.2)(-1.9,0.1)(-1.85,-0.1)(-1.8,-0.3)(-1.75,-0.6)(-1.7,-0.8)(-1.65,-0.9)(-1.6,-1.1)(-1.55,-1.3)(-1.5,-1.6)(-1.45,-1.9)(-1.4,-2.3)(-1.35,-2.6)(-1.3,-2.8)(-1.25,-2.7)(-1.2,-2.4)(-1.15,-1.9)(-1.1,-1.2)(-1.05,-0.4)(-1,0.4)(-0.95,1.1)(-0.9,1.6)(-0.85,1.85)(-0.8,2.0)(-0.75,1.9)(-0.7,1.7)(-0.65,1.5)(-0.6,1.3)(-0.55,1.1)(-0.5,0.8)(-0.45,0.7)(-0.4,0.5)(-0.35,0.4)(-0.3,0.35)(-0.25,0.1)(-0.2,-0.1)(-0.15,-0.3)(-0.1,-0.2)(-0.05,-0.4)(0,-0.2)(0.05,0.1)(0.1,0.3)(0.15,0.5)(0.2,0.7)(0.25,0.9)(0.3,1.0)(0.35,0.8)(0.4,0.6)(0.45,0.3)(0.5,0.0)(0.55,-0.3)(0.6,-0.6)(0.65,-0.8)(0.7,-0.5)(0.75,-0.2)(0.8,0.2)(0.85,0.5)(0.9,0.8)(0.95,0.5)(1,0.2)};
\addplot[s, cp] coordinates {(-2,0.2)(-1.95,0.0)(-1.9,-0.2)(-1.85,-0.4)(-1.8,-0.6)(-1.75,-0.75)(-1.7,-0.9)(-1.65,-1.0)(-1.6,-1.2)(-1.55,-1.4)(-1.5,-1.6)(-1.45,-1.5)(-1.4,-1.3)(-1.35,-1.2)(-1.3,-1.0)(-1.25,-0.9)(-1.2,-0.7)(-1.15,-0.5)(-1.1,-0.6)(-1.05,-0.4)(-1,-0.3)(-0.95,-0.5)(-0.9,-0.3)(-0.85,-0.1)(-0.8,0.0)(-0.75,-0.1)(-0.7,0.1)(-0.65,0.0)(-0.6,0.2)(-0.55,0.1)(-0.5,0.3)(-0.45,0.2)(-0.4,0.4)(-0.35,0.3)(-0.3,0.35)(-0.25,0.2)(-0.2,-0.1)(-0.15,-0.5)(-0.1,-0.8)(-0.05,-0.7)(0,-0.5)(0.05,-0.3)(0.1,-0.2)(0.15,-0.5)(0.2,-0.8)(0.25,-1.1)(0.3,-1.3)(0.35,-1.5)(0.4,-1.6)(0.45,-1.55)(0.5,-1.3)(0.55,-0.9)(0.6,-0.4)(0.65,0.2)(0.7,0.9)(0.75,1.5)(0.8,1.8)(0.85,1.6)(0.9,1.2)(0.95,0.7)(1,0.2)};
\addplot[s, cr] coordinates {(-2,0.4)(-1.95,0.3)(-1.9,0.1)(-1.85,-0.2)(-1.8,-0.4)(-1.75,-0.7)(-1.7,-0.9)(-1.65,-1.1)(-1.6,-1.3)(-1.55,-1.5)(-1.5,-1.6)(-1.45,-2.0)(-1.4,-2.4)(-1.35,-2.8)(-1.3,-3.1)(-1.25,-3.4)(-1.2,-3.3)(-1.15,-3.4)(-1.1,-3.0)(-1.05,-2.4)(-1,-1.9)(-0.95,-1.6)(-0.9,-1.2)(-0.85,-0.8)(-0.8,-0.5)(-0.75,-0.2)(-0.7,0.0)(-0.65,0.2)(-0.6,0.3)(-0.55,0.2)(-0.5,0.4)(-0.45,0.5)(-0.4,0.4)(-0.35,0.45)(-0.3,0.35)(-0.25,0.2)(-0.2,0.0)(-0.15,-0.3)(-0.1,-0.5)(-0.05,-0.7)(0,-0.9)(0.05,-1.0)(0.1,-0.8)(0.15,-0.5)(0.2,-0.2)(0.25,0.2)(0.3,0.5)(0.35,0.8)(0.4,0.9)(0.45,0.7)(0.5,0.4)(0.55,0.0)(0.6,-0.3)(0.65,-0.6)(0.7,-1.0)(0.75,-1.3)(0.8,-1.5)(0.85,-1.6)(0.9,-1.8)(0.95,-1.7)(1,-1.8)};
\addplot[s, cg] coordinates {(-2,0.5)(-1.95,0.4)(-1.9,0.2)(-1.85,0.1)(-1.8,-0.2)(-1.75,-0.4)(-1.7,-0.7)(-1.65,-0.9)(-1.6,-1.1)(-1.55,-1.4)(-1.5,-1.6)(-1.45,-1.5)(-1.4,-1.3)(-1.35,-1.2)(-1.3,-1.0)(-1.25,-0.9)(-1.2,-0.8)(-1.15,-0.6)(-1.1,-0.5)(-1.05,-0.45)(-1,-0.5)(-0.95,-0.3)(-0.9,-0.35)(-0.85,-0.2)(-0.8,-0.25)(-0.75,-0.1)(-0.7,-0.15)(-0.65,0.0)(-0.6,-0.1)(-0.55,0.1)(-0.5,0.2)(-0.45,0.1)(-0.4,0.3)(-0.35,0.3)(-0.3,0.35)(-0.25,0.4)(-0.2,0.5)(-0.15,0.4)(-0.1,0.6)(-0.05,0.5)(0,0.6)(0.05,0.7)(0.1,0.6)(0.15,0.55)(0.2,0.5)(0.25,0.3)(0.3,0.1)(0.35,0.0)(0.4,-0.2)(0.45,0.0)(0.5,0.2)(0.55,0.1)(0.6,0.0)(0.65,-0.1)(0.7,-0.2)(0.75,-0.3)(0.8,-0.5)(0.85,-0.8)(0.9,-1.1)(0.95,-1.4)(1,-1.6)};
\addplot[s, co] coordinates {(-2,0.4)(-1.95,0.2)(-1.9,0.0)(-1.85,-0.2)(-1.8,-0.4)(-1.75,-0.6)(-1.7,-0.8)(-1.65,-1.0)(-1.6,-1.2)(-1.55,-1.4)(-1.5,-1.6)(-1.45,-1.9)(-1.4,-2.1)(-1.35,-2.3)(-1.3,-2.35)(-1.25,-2.2)(-1.2,-2.0)(-1.15,-1.8)(-1.1,-1.6)(-1.05,-1.3)(-1,-1.1)(-0.95,-0.9)(-0.9,-0.8)(-0.85,-0.6)(-0.8,-0.4)(-0.75,-0.3)(-0.7,-0.2)(-0.65,-0.1)(-0.6,0.0)(-0.55,0.1)(-0.5,0.0)(-0.45,0.2)(-0.4,0.3)(-0.35,0.3)(-0.3,0.35)(-0.25,0.0)(-0.2,-0.4)(-0.15,-0.8)(-0.1,-1.0)(-0.05,-1.3)(0,-1.4)(0.05,-1.6)(0.1,-1.5)(0.15,-1.4)(0.2,-1.3)(0.25,-1.2)(0.3,-1.0)(0.35,-0.8)(0.4,-0.5)(0.45,-0.2)(0.5,0.1)(0.55,0.3)(0.6,0.5)(0.65,0.4)(0.7,0.2)(0.75,0.0)(0.8,-0.4)(0.85,-0.7)(0.9,-1.0)(0.95,-1.5)(1,-1.9)};
\addplot[s, cy] coordinates {(-2,0.3)(-1.95,0.1)(-1.9,-0.1)(-1.85,-0.3)(-1.8,-0.5)(-1.75,-0.7)(-1.7,-0.9)(-1.65,-1.1)(-1.6,-1.3)(-1.55,-1.45)(-1.5,-1.6)(-1.45,-1.7)(-1.4,-1.8)(-1.35,-1.75)(-1.3,-1.6)(-1.25,-1.4)(-1.2,-1.2)(-1.15,-1.0)(-1.1,-0.8)(-1.05,-0.65)(-1,-0.5)(-0.95,-0.45)(-0.9,-0.4)(-0.85,-0.3)(-0.8,-0.2)(-0.75,-0.1)(-0.7,0.0)(-0.65,0.05)(-0.6,0.1)(-0.55,0.15)(-0.5,0.2)(-0.45,0.2)(-0.4,0.25)(-0.35,0.3)(-0.3,0.35)(-0.25,0.2)(-0.2,0.1)(-0.15,-0.15)(-0.1,-0.4)(-0.05,-0.6)(0,-0.8)(0.05,-1.0)(0.1,-1.1)(0.15,-1.0)(0.2,-0.9)(0.25,-0.7)(0.3,-0.5)(0.35,-0.25)(0.4,0.0)(0.45,0.1)(0.5,0.2)(0.55,0.3)(0.6,0.4)(0.65,0.3)(0.7,0.2)(0.75,0.1)(0.8,0.0)(0.85,-0.2)(0.9,-0.4)(0.95,-0.65)(1,-0.9)};
\addplot[mn] coordinates {(-2,-0.07)(-1.95,-0.127)(-1.9,-0.217)(-1.85,-0.346)(-1.8,-0.52)(-1.75,-0.732)(-1.7,-0.97)(-1.65,-1.208)(-1.6,-1.412)(-1.55,-1.551)(-1.5,-1.6)(-1.45,-1.551)(-1.4,-1.412)(-1.35,-1.208)(-1.3,-0.97)(-1.25,-0.732)(-1.2,-0.52)(-1.15,-0.346)(-1.1,-0.217)(-1.05,-0.127)(-1,-0.07)(-0.95,-0.036)(-0.9,-0.018)(-0.85,0)(-0.8,0.011)(-0.75,0.028)(-0.7,0.047)(-0.65,0.076)(-0.6,0.114)(-0.55,0.16)(-0.5,0.212)(-0.45,0.264)(-0.4,0.309)(-0.35,0.339)(-0.3,0.35)(-0.25,0.339)(-0.2,0.309)(-0.15,0.264)(-0.1,0.212)(-0.05,0.16)(0,0.114)(0.05,0.076)(0.1,0.047)(0.15,0.028)(0.2,0.015)(0.25,0.008)(0.3,0.004)(0.35,0)(1,0)};
\addplot[ob] coordinates {(-1.5,-1.6)(-0.3,0.35)};
\end{axis}
% ---------------- (d)
\begin{axis}[gp, at={(471pt,29pt)}, height=173pt, ymin=-5, ymax=3, ytick={-4,-2,0,2}, yticklabels={-4,-2,0,2}]
\addplot[bd] coordinates {(-2,-2.068)(-1.95,-2.121)(-1.9,-2.199)(-1.85,-2.299)(-1.8,-2.412)(-1.75,-2.51)(-1.7,-2.56)(-1.65,-2.52)(-1.6,-2.353)(-1.55,-2.043)(-1.525,-1.836)(-1.5,-1.64)(-1.475,-1.836)(-1.45,-2.043)(-1.4,-2.353)(-1.35,-2.52)(-1.3,-2.56)(-1.25,-2.51)(-1.2,-2.412)(-1.15,-2.299)(-1.1,-2.199)(-1.05,-2.121)(-1,-2.068)(-0.95,-2.036)(-0.9,-2.018)(-0.85,-2.0)(-0.8,-1.987)(-0.75,-1.966)(-0.7,-1.935)(-0.65,-1.877)(-0.6,-1.778)(-0.55,-1.618)(-0.5,-1.378)(-0.45,-1.048)(-0.4,-0.632)(-0.35,-0.153)(-0.325,0.09)(-0.3,0.30)(-0.275,0.085)(-0.25,-0.173)(-0.2,-0.675)(-0.15,-1.138)(-0.1,-1.552)(-0.05,-1.929)(0,-2.299)(0.05,-2.693)(0.1,-3.124)(0.15,-3.574)(0.2,-3.999)(0.25,-4.322)(0.3,-4.466)(0.35,-4.367)(0.375,-4.218)(0.4,-4.04)(0.425,-4.218)(0.45,-4.369)(0.5,-4.47)(0.55,-4.331)(0.6,-4.016)(0.65,-3.609)(0.7,-3.191)(0.75,-2.818)(0.8,-2.523)(0.85,-2.312)(0.9,-2.174)(0.95,-2.091)(1,-2.044)(1,1.956)(0.95,1.909)(0.9,1.822)(0.85,1.676)(0.8,1.441)(0.75,1.087)(0.7,0.593)(0.65,-0.053)(0.6,-0.836)(0.55,-1.707)(0.5,-2.59)(0.45,-3.385)(0.425,-3.72)(0.4,-3.96)(0.375,-3.72)(0.35,-3.383)(0.3,-2.586)(0.25,-1.7)(0.2,-0.823)(0.15,-0.032)(0.1,0.62)(0.05,1.115)(0,1.445)(-0.05,1.613)(-0.1,1.624)(-0.15,1.484)(-0.2,1.205)(-0.25,0.811)(-0.275,0.583)(-0.3,0.38)(-0.325,0.59)(-0.35,0.831)(-0.4,1.25)(-0.45,1.576)(-0.5,1.802)(-0.55,1.938)(-0.6,2.006)(-0.65,2.029)(-0.7,2.029)(-0.75,2.022)(-0.8,2.009)(-0.85,2.0)(-0.9,1.982)(-0.95,1.964)(-1,1.928)(-1.05,1.867)(-1.1,1.765)(-1.15,1.607)(-1.2,1.372)(-1.25,1.046)(-1.3,0.62)(-1.35,0.104)(-1.4,-0.471)(-1.45,-1.059)(-1.475,-1.338)(-1.5,-1.56)(-1.525,-1.338)(-1.55,-1.059)(-1.6,-0.471)(-1.65,0.104)(-1.7,0.62)(-1.75,1.046)(-1.8,1.372)(-1.85,1.607)(-1.9,1.765)(-1.95,1.867)(-2,1.928)} -- cycle;
\addplot[s, cb] coordinates {(-2,-2.3)(-1.95,-2.2)(-1.9,-2.4)(-1.85,-2.6)(-1.8,-2.8)(-1.75,-3.0)(-1.7,-3.1)(-1.65,-2.9)(-1.6,-2.6)(-1.55,-2.1)(-1.5,-1.6)(-1.45,-1.2)(-1.4,-0.8)(-1.35,-0.5)(-1.3,-0.3)(-1.25,-0.2)(-1.2,-0.3)(-1.15,-0.4)(-1.1,-0.6)(-1.05,-0.8)(-1,-1.0)(-0.95,-1.1)(-0.9,-0.9)(-0.85,-0.7)(-0.8,-0.5)(-0.75,-0.4)(-0.7,-0.5)(-0.65,-0.35)(-0.6,-0.45)(-0.55,-0.3)(-0.5,-0.1)(-0.45,0.2)(-0.4,0.1)(-0.35,0.3)(-0.3,0.35)(-0.25,0.3)(-0.2,0.1)(-0.15,-0.2)(-0.1,-0.5)(-0.05,-0.9)(0,-1.3)(0.05,-1.8)(0.1,-2.3)(0.15,-2.8)(0.2,-3.2)(0.25,-3.5)(0.3,-3.8)(0.35,-3.9)(0.4,-4.0)(0.45,-3.7)(0.5,-3.2)(0.55,-2.7)(0.6,-2.2)(0.65,-1.7)(0.7,-1.3)(0.75,-1.0)(0.8,-0.8)(0.85,-0.7)(0.9,-0.6)(0.95,-0.5)(1,-0.5)};
\addplot[s, cl] coordinates {(-2,0.8)(-1.95,0.7)(-1.9,0.6)(-1.85,0.3)(-1.8,0.0)(-1.75,-0.4)(-1.7,-0.8)(-1.65,-1.1)(-1.6,-1.3)(-1.55,-1.5)(-1.5,-1.6)(-1.45,-1.0)(-1.4,-0.3)(-1.35,0.4)(-1.3,0.9)(-1.25,1.3)(-1.2,1.6)(-1.15,1.8)(-1.1,1.85)(-1.05,1.9)(-1,1.85)(-0.95,1.9)(-0.9,1.7)(-0.85,1.6)(-0.8,1.5)(-0.75,1.3)(-0.7,1.2)(-0.65,1.0)(-0.6,0.9)(-0.55,0.7)(-0.5,0.6)(-0.45,0.5)(-0.4,0.6)(-0.35,0.45)(-0.3,0.35)(-0.25,0.6)(-0.2,0.9)(-0.15,1.1)(-0.1,1.25)(-0.05,1.1)(0,0.8)(0.05,0.3)(0.1,-0.4)(0.15,-1.2)(0.2,-2.0)(0.25,-2.8)(0.3,-3.4)(0.35,-3.8)(0.4,-4.0)(0.45,-3.8)(0.5,-3.5)(0.55,-3.1)(0.6,-2.7)(0.65,-2.3)(0.7,-2.0)(0.75,-1.8)(0.8,-1.6)(0.85,-1.5)(0.9,-1.2)(0.95,-0.9)(1,-0.7)};
\addplot[s, cy] coordinates {(-2,1.7)(-1.95,1.5)(-1.9,1.3)(-1.85,1.2)(-1.8,0.9)(-1.75,0.5)(-1.7,0.0)(-1.65,-0.5)(-1.6,-0.9)(-1.55,-1.3)(-1.5,-1.6)(-1.45,-1.9)(-1.4,-2.2)(-1.35,-2.4)(-1.3,-2.5)(-1.25,-2.45)(-1.2,-2.3)(-1.15,-2.2)(-1.1,-2.0)(-1.05,-1.8)(-1,-1.6)(-0.95,-1.3)(-0.9,-1.0)(-0.85,-0.7)(-0.8,-0.4)(-0.75,-0.2)(-0.7,0.0)(-0.65,0.1)(-0.6,0.3)(-0.55,0.4)(-0.5,0.5)(-0.45,0.5)(-0.4,0.4)(-0.35,0.4)(-0.3,0.35)(-0.25,0.4)(-0.2,0.3)(-0.15,0.1)(-0.1,-0.2)(-0.05,-0.5)(0,-0.9)(0.05,-1.3)(0.1,-1.8)(0.15,-2.3)(0.2,-2.8)(0.25,-3.3)(0.3,-3.7)(0.35,-3.9)(0.4,-4.0)(0.45,-3.5)(0.5,-2.9)(0.55,-2.2)(0.6,-1.4)(0.65,-0.7)(0.7,-0.1)(0.75,0.4)(0.8,0.9)(0.85,1.2)(0.9,1.5)(0.95,1.6)(1,1.6)};
\addplot[s, cg] coordinates {(-2,0.5)(-1.95,0.7)(-1.9,0.8)(-1.85,0.9)(-1.8,0.7)(-1.75,0.4)(-1.7,0.0)(-1.65,-0.4)(-1.6,-0.8)(-1.55,-1.2)(-1.5,-1.6)(-1.45,-1.1)(-1.4,-0.7)(-1.35,-0.4)(-1.3,-0.2)(-1.25,0.0)(-1.2,0.2)(-1.15,0.3)(-1.1,0.4)(-1.05,0.5)(-1,0.4)(-0.95,0.5)(-0.9,0.3)(-0.85,0.0)(-0.8,-0.3)(-0.75,-0.6)(-0.7,-1.0)(-0.65,-1.3)(-0.6,-1.5)(-0.55,-1.6)(-0.5,-1.2)(-0.45,-0.7)(-0.4,-0.2)(-0.35,0.1)(-0.3,0.35)(-0.25,0.2)(-0.2,0.0)(-0.15,-0.3)(-0.1,-0.7)(-0.05,-1.1)(0,-1.5)(0.05,-1.9)(0.1,-2.4)(0.15,-2.8)(0.2,-3.2)(0.25,-3.6)(0.3,-3.9)(0.35,-4.05)(0.4,-4.0)(0.45,-3.5)(0.5,-2.8)(0.55,-2.2)(0.6,-1.8)(0.65,-1.6)(0.7,-1.5)(0.75,-1.5)(0.8,-1.6)(0.85,-1.7)(0.9,-1.8)(0.95,-2.0)(1,-2.1)};
\addplot[s, co] coordinates {(-2,-2.0)(-1.95,-1.95)(-1.9,-1.85)(-1.85,-1.8)(-1.8,-1.75)(-1.75,-1.7)(-1.7,-1.75)(-1.65,-1.7)(-1.6,-1.65)(-1.55,-1.6)(-1.5,-1.6)(-1.45,-1.2)(-1.4,-0.7)(-1.35,-0.3)(-1.3,0.0)(-1.25,0.2)(-1.2,0.4)(-1.15,0.6)(-1.1,0.7)(-1.05,0.8)(-1,0.9)(-0.95,1.0)(-0.9,0.95)(-0.85,1.0)(-0.8,0.9)(-0.75,0.8)(-0.7,0.85)(-0.65,0.7)(-0.6,0.6)(-0.55,0.5)(-0.5,0.55)(-0.45,0.4)(-0.4,0.45)(-0.35,0.4)(-0.3,0.35)(-0.25,0.2)(-0.2,0.0)(-0.15,-0.3)(-0.1,-0.7)(-0.05,-1.1)(0,-1.5)(0.05,-2.0)(0.1,-2.5)(0.15,-2.9)(0.2,-3.3)(0.25,-3.6)(0.3,-3.85)(0.35,-4.0)(0.4,-4.0)(0.45,-3.6)(0.5,-3.0)(0.55,-2.4)(0.6,-1.8)(0.65,-1.3)(0.7,-0.8)(0.75,-0.4)(0.8,-0.1)(0.85,0.3)(0.9,0.6)(0.95,0.9)(1,0.8)};
\addplot[s, co] coordinates {(-2,0.4)(-1.95,0.3)(-1.9,0.2)(-1.85,0.0)(-1.8,-0.3)(-1.75,-0.55)(-1.7,-0.8)(-1.65,-1.05)(-1.6,-1.3)(-1.55,-1.45)(-1.5,-1.6)(-1.45,-1.1)(-1.4,-0.6)(-1.35,-0.2)(-1.3,0.1)(-1.25,0.3)(-1.2,0.5)(-1.15,0.65)(-1.1,0.8)(-1.05,0.9)(-1,1.0)(-0.95,1.05)(-0.9,1.1)(-0.85,1.05)(-0.8,1.0)(-0.75,0.9)(-0.7,0.8)(-0.65,0.7)(-0.6,0.6)(-0.55,0.55)(-0.5,0.5)(-0.45,0.4)(-0.4,0.3)(-0.35,0.32)(-0.3,0.35)(-0.25,0.3)(-0.2,0.2)(-0.15,-0.1)(-0.1,-0.4)(-0.05,-0.8)(0,-1.2)(0.05,-1.7)(0.1,-2.2)(0.15,-2.7)(0.2,-3.1)(0.25,-3.4)(0.3,-3.7)(0.35,-3.9)(0.4,-4.0)(0.45,-3.7)(0.5,-3.3)(0.55,-2.8)(0.6,-2.3)(0.65,-1.8)(0.7,-1.4)(0.75,-1.1)(0.8,-0.8)(0.85,-0.7)(0.9,-0.6)(0.95,-0.5)(1,-0.4)};
\addplot[s, cp] coordinates {(-2,1.2)(-1.95,1.15)(-1.9,1.1)(-1.85,0.9)(-1.8,0.5)(-1.75,0.2)(-1.7,-0.2)(-1.65,-0.6)(-1.6,-1.0)(-1.55,-1.3)(-1.5,-1.6)(-1.45,-1.1)(-1.4,-0.6)(-1.35,-0.2)(-1.3,0.2)(-1.25,0.5)(-1.2,0.8)(-1.15,1.0)(-1.1,1.1)(-1.05,1.2)(-1,1.25)(-0.95,1.3)(-0.9,1.2)(-0.85,1.1)(-0.8,1.15)(-0.75,1.0)(-0.7,0.9)(-0.65,0.8)(-0.6,0.7)(-0.55,0.6)(-0.5,0.5)(-0.45,0.5)(-0.4,0.4)(-0.35,0.4)(-0.3,0.35)(-0.25,0.1)(-0.2,-0.3)(-0.15,-0.8)(-0.1,-1.3)(-0.05,-1.8)(0,-2.2)(0.05,-2.6)(0.1,-3.0)(0.15,-3.3)(0.2,-3.6)(0.25,-3.8)(0.3,-3.95)(0.35,-4.0)(0.4,-4.0)(0.45,-4.2)(0.5,-4.3)(0.55,-4.1)(0.6,-3.6)(0.65,-2.9)(0.7,-2.2)(0.75,-1.5)(0.8,-0.9)(0.85,-0.4)(0.9,0.0)(0.95,0.3)(1,0.6)};
\addplot[s, cp] coordinates {(-2,-0.7)(-1.95,-0.8)(-1.9,-0.85)(-1.85,-0.9)(-1.8,-0.9)(-1.75,-1.0)(-1.7,-1.1)(-1.65,-1.2)(-1.6,-1.4)(-1.55,-1.5)(-1.5,-1.6)(-1.45,-1.2)(-1.4,-0.8)(-1.35,-0.5)(-1.3,-0.2)(-1.25,0.0)(-1.2,0.2)(-1.15,0.3)(-1.1,0.5)(-1.05,0.6)(-1,0.7)(-0.95,0.8)(-0.9,0.7)(-0.85,0.9)(-0.8,0.8)(-0.75,0.7)(-0.7,0.6)(-0.65,0.5)(-0.6,0.6)(-0.55,0.5)(-0.5,0.4)(-0.45,0.3)(-0.4,0.35)(-0.35,0.3)(-0.3,0.35)(-0.25,0.0)(-0.2,-0.4)(-0.15,-0.9)(-0.1,-1.4)(-0.05,-1.9)(0,-2.4)(0.05,-2.8)(0.1,-3.2)(0.15,-3.5)(0.2,-3.8)(0.25,-4.0)(0.3,-4.1)(0.35,-4.05)(0.4,-4.0)(0.45,-3.8)(0.5,-3.4)(0.55,-3.0)(0.6,-2.5)(0.65,-2.0)(0.7,-1.6)(0.75,-1.3)(0.8,-1.0)(0.85,-0.8)(0.9,-0.9)(0.95,-1.1)(1,-1.4)};
\addplot[s, cr] coordinates {(-2,0.3)(-1.95,0.2)(-1.9,0.3)(-1.85,0.1)(-1.8,-0.2)(-1.75,-0.5)(-1.7,-0.8)(-1.65,-1.1)(-1.6,-1.3)(-1.55,-1.5)(-1.5,-1.6)(-1.45,-1.2)(-1.4,-0.8)(-1.35,-0.6)(-1.3,-0.7)(-1.25,-0.9)(-1.2,-1.1)(-1.15,-1.3)(-1.1,-1.5)(-1.05,-1.6)(-1,-1.7)(-0.95,-1.6)(-0.9,-1.4)(-0.85,-1.0)(-0.8,-0.6)(-0.75,-0.2)(-0.7,0.2)(-0.65,0.5)(-0.6,0.8)(-0.55,0.9)(-0.5,0.7)(-0.45,0.6)(-0.4,0.5)(-0.35,0.45)(-0.3,0.35)(-0.25,0.2)(-0.2,-0.1)(-0.15,-0.5)(-0.1,-1.0)(-0.05,-1.5)(0,-1.9)(0.05,-2.3)(0.1,-2.7)(0.15,-3.1)(0.2,-3.4)(0.25,-3.7)(0.3,-3.9)(0.35,-4.0)(0.4,-4.0)(0.45,-3.7)(0.5,-3.3)(0.55,-2.8)(0.6,-2.2)(0.65,-1.6)(0.7,-1.0)(0.75,-0.5)(0.8,0.0)(0.85,0.4)(0.9,0.7)(0.95,0.9)(1,0.8)};
\addplot[s, cy] coordinates {(-2,1.3)(-1.95,1.3)(-1.9,1.2)(-1.85,1.1)(-1.8,0.8)(-1.75,0.4)(-1.7,-0.1)(-1.65,-0.6)(-1.6,-1.0)(-1.55,-1.4)(-1.5,-1.6)(-1.45,-1.0)(-1.4,-0.5)(-1.35,-0.1)(-1.3,0.2)(-1.25,0.4)(-1.2,0.6)(-1.15,0.7)(-1.1,0.8)(-1.05,0.9)(-1,1.0)(-0.95,1.1)(-0.9,1.0)(-0.85,1.05)(-0.8,0.9)(-0.75,1.0)(-0.7,0.9)(-0.65,0.8)(-0.6,0.75)(-0.55,0.7)(-0.5,0.6)(-0.45,0.55)(-0.4,0.5)(-0.35,0.45)(-0.3,0.35)(-0.25,0.5)(-0.2,0.4)(-0.15,0.2)(-0.1,-0.1)(-0.05,-0.5)(0,-0.9)(0.05,-1.4)(0.1,-1.9)(0.15,-2.4)(0.2,-2.9)(0.25,-3.3)(0.3,-3.6)(0.35,-3.85)(0.4,-4.0)(0.45,-3.4)(0.5,-2.7)(0.55,-2.0)(0.6,-1.3)(0.65,-0.6)(0.7,0.0)(0.75,0.4)(0.8,0.7)(0.85,0.9)(0.9,1.1)(0.95,1.2)(1,1.2)};
\addplot[mn] coordinates {(-2,-0.07)(-1.95,-0.127)(-1.9,-0.217)(-1.85,-0.346)(-1.8,-0.52)(-1.75,-0.732)(-1.7,-0.97)(-1.65,-1.208)(-1.6,-1.412)(-1.55,-1.551)(-1.5,-1.6)(-1.45,-1.551)(-1.4,-1.412)(-1.35,-1.208)(-1.3,-0.97)(-1.25,-0.732)(-1.2,-0.52)(-1.15,-0.346)(-1.1,-0.217)(-1.05,-0.127)(-1,-0.07)(-0.95,-0.036)(-0.9,-0.018)(-0.85,0)(-0.8,0.011)(-0.75,0.028)(-0.7,0.047)(-0.65,0.076)(-0.6,0.114)(-0.55,0.16)(-0.5,0.212)(-0.45,0.264)(-0.4,0.309)(-0.35,0.339)(-0.3,0.341)(-0.25,0.319)(-0.2,0.265)(-0.15,0.173)(-0.1,0.036)(-0.05,-0.158)(0,-0.427)(0.05,-0.789)(0.1,-1.252)(0.15,-1.803)(0.2,-2.411)(0.25,-3.011)(0.3,-3.526)(0.35,-3.875)(0.4,-4)(0.45,-3.877)(0.5,-3.53)(0.55,-3.019)(0.6,-2.426)(0.65,-1.831)(0.7,-1.299)(0.75,-0.865)(0.8,-0.541)(0.85,-0.318)(0.9,-0.176)(0.95,-0.091)(1,-0.044)};
\addplot[ob] coordinates {(-1.5,-1.6)(-0.3,0.35)(0.4,-4.0)};
\end{axis}
% ---------------- titles and panel labels
\node[anchor=base, font=\fontsize{17}{20}\selectfont, text=txt] at (218pt,472pt) {Before seeing any inputs};
\node[anchor=base, font=\fontsize{17}{20}\selectfont, text=txt] at (680pt,472pt) {Input 1: log p(y|X)=-0.361};
\node[anchor=base, font=\fontsize{17}{20}\selectfont, text=txt] at (225pt,219pt) {Input 2: log p(y|X)=-0.406};
\node[anchor=base, font=\fontsize{17}{20}\selectfont, text=txt] at (668pt,219pt) {Input 3: log p(y|X)=-8.410};
\node[anchor=base west, inner sep=0pt, font=\serifbf\bfseries\fontsize{21}{21}\selectfont] at (7pt,479pt) {(a)};
\node[anchor=base west, inner sep=0pt, font=\serifbf\bfseries\fontsize{21}{21}\selectfont] at (450pt,479pt) {(b)};
\node[anchor=base west, inner sep=0pt, font=\serifbf\bfseries\fontsize{21}{21}\selectfont] at (7pt,228pt) {(c)};
\node[anchor=base west, inner sep=0pt, font=\serifbf\bfseries\fontsize{21}{21}\selectfont] at (450pt,224pt) {(d)};
\end{tikzpicture}
\end{document}
